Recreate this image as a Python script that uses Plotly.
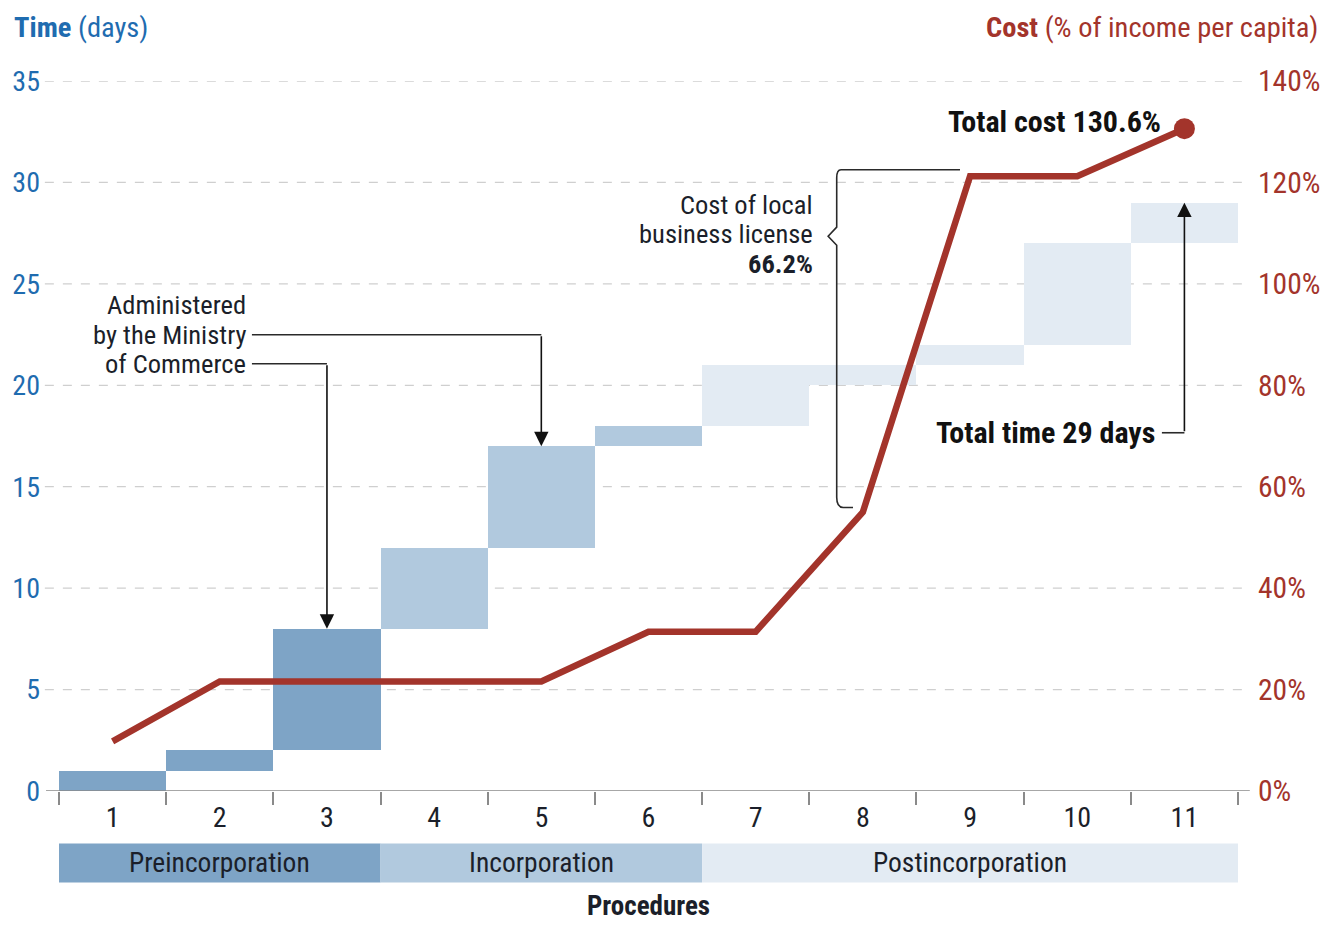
import plotly.graph_objects as go

# Procedures and their timing (days) / cumulative cost (% of income per capita)
procedures = [1, 2, 3, 4, 5, 6, 7, 8, 9, 10, 11]
start_day = [0, 1, 2, 8, 12, 17, 18, 20, 21, 22, 27]
end_day = [1, 2, 8, 12, 17, 18, 21, 21, 22, 27, 29]
cum_cost = [9.8, 21.6, 21.6, 21.6, 21.6, 31.4, 31.4, 55.0, 121.2, 121.2, 130.6]

# Phases: name, first procedure, last procedure, colour
phase_names = ["Preincorporation", "Incorporation", "Postincorporation"]
phase_first = [1, 4, 7]
phase_last = [3, 6, 11]
phase_colors = ["#7ea4c6", "#b1c9de", "#e3ebf3"]

time_ticks = [0, 5, 10, 15, 20, 25, 30, 35]
cost_ticks = [0, 20, 40, 60, 80, 100, 120, 140]
cost_tick_text = [f"{c}%" for c in cost_ticks]

FONT = "Liberation Sans Narrow, Arial Narrow, Roboto Condensed, DejaVu Sans Condensed, Liberation Sans, sans-serif"
BLUE = "#1f6cb0"
RED = "#a3342b"
INK = "#1b1f2a"
LINE = "#2a2a2a"


def phase_color(p):
    for f, l, c in zip(phase_first, phase_last, phase_colors):
        if f <= p <= l:
            return c
    return phase_colors[-1]


fig = go.Figure()

# Time bars (floating from start to end day)
fig.add_trace(go.Bar(
    x=procedures,
    y=[e - s for s, e in zip(start_day, end_day)],
    base=start_day,
    width=1.0,
    marker=dict(color=[phase_color(p) for p in procedures], line=dict(width=0)),
    hoverinfo="skip",
    showlegend=False,
))

# Cumulative cost line
fig.add_trace(go.Scatter(
    x=procedures, y=cum_cost, yaxis="y2", mode="lines",
    line=dict(color=RED, width=6.5), showlegend=False, hoverinfo="skip",
))
fig.add_trace(go.Scatter(
    x=[procedures[-1]], y=[cum_cost[-1]], yaxis="y2", mode="markers",
    marker=dict(color=RED, size=21), showlegend=False, hoverinfo="skip",
))

shapes = []
# dashed gridlines
for t in time_ticks[1:]:
    shapes.append(dict(type="line", xref="paper", yref="y", x0=-0.012, x1=1.010,
                       y0=t, y1=t, layer="below",
                       line=dict(color="#cfcfcf", width=1.3, dash="dash")))
# baseline
shapes.append(dict(type="line", xref="paper", yref="y", x0=-0.011, x1=1.010,
                   y0=0, y1=0, line=dict(color="#8a8a8a", width=1.6)))


def note(text, x, y, xref="x", yref="y", size=26.5, color=INK, xanchor="center"):
    return dict(text=text, xref=xref, yref=yref, x=x, y=y, xanchor=xanchor,
                yanchor="middle", showarrow=False,
                font=dict(size=size, color=color, family=FONT))


def arrow(x, y, ax, ay):
    return dict(text="", xref="x", yref="y", axref="x", ayref="y",
                x=x, y=y, ax=ax, ay=ay, showarrow=True, arrowhead=2,
                arrowsize=1.8, arrowwidth=1.6, arrowcolor="#111", standoff=0)


# phase strips under the axis
annotations = []
for name, f, l, c in zip(phase_names, phase_first, phase_last, phase_colors):
    shapes.append(dict(type="rect", xref="x", yref="paper", x0=f - 0.5, x1=l + 0.5,
                       y0=-0.1288, y1=-0.0739, fillcolor=c, line=dict(width=0)))
    annotations.append(note(name, (f + l) / 2, -0.1013, yref="paper", size=27.5))

annotations.append(note("<b>Procedures</b>", 0.4996, -0.1625, xref="paper", yref="paper", size=27))

# axis titles
annotations.append(note("<b>Time</b> (days)", -0.040, 1.076, xref="paper", yref="paper",
                        size=28.5, color=BLUE, xanchor="left"))
annotations.append(note("<b>Cost</b> (% of income per capita)", 1.0696, 1.076, xref="paper",
                        yref="paper", size=28.5, color=RED, xanchor="right"))

# Ministry of Commerce callout
ministry_lines = ["Administered", "by the Ministry", "of Commerce"]
ministry_y = [23.97, 22.49, 21.06]
for txt, yy in zip(ministry_lines, ministry_y):
    annotations.append(note(txt, 2.263, yy, xanchor="right"))
for yy, target in [(ministry_y[1], 5), (ministry_y[2], 3)]:
    shapes.append(dict(type="line", xref="x", yref="y", x0=2.30, x1=target, y0=yy, y1=yy,
                       line=dict(color=LINE, width=1.6)))
    annotations.append(arrow(target, end_day[target - 1], target, yy))

# Total time callout
tt_y = 17.66
annotations.append(note("<b>Total time 29 days</b>", 10.745, tt_y, size=30, color="#111",
                        xanchor="right"))
shapes.append(dict(type="line", xref="x", yref="y", x0=10.79, x1=procedures[-1], y0=tt_y, y1=tt_y,
                   line=dict(color=LINE, width=1.6)))
annotations.append(arrow(procedures[-1], end_day[-1], procedures[-1], tt_y))

# Total cost label
annotations.append(note("<b>Total cost 130.6%</b>", 10.80, 132.1, yref="y2", size=30,
                        color="#111", xanchor="right"))

# Local business license brace
lic_lines = ["Cost of local", "business license", "<b>66.2%</b>"]
lic_y = [28.89, 27.46, 25.99]
for txt, yy in zip(lic_lines, lic_y):
    annotations.append(note(txt, 7.553, yy, xanchor="right"))
b_top = cum_cost[8] + 1.3
b_bot = cum_cost[7] + 0.9
b_mid = 109.4
bx = 7.756
brace = (f"M 8.906,{b_top} L {bx + 0.04},{b_top} Q {bx},{b_top} {bx},{b_top - 1.6} "
         f"L {bx},{b_mid + 1.8} L {bx - 0.08},{b_mid} L {bx},{b_mid - 1.8} "
         f"L {bx},{b_bot + 2.0} Q {bx},{b_bot} {bx + 0.06},{b_bot} L 7.908,{b_bot}")
shapes.append(dict(type="path", xref="x", yref="y2", path=brace,
                   line=dict(color=LINE, width=1.6)))

fig.update_layout(
    width=1325, height=925,
    margin=dict(l=59, r=87, t=81, b=134),
    paper_bgcolor="white", plot_bgcolor="white",
    font=dict(family=FONT, size=28, color=INK),
    bargap=0,
    showlegend=False,
    shapes=shapes,
    annotations=annotations,
    xaxis=dict(
        range=[0.5, 11.5], tickmode="array", tickvals=procedures,
        ticktext=[str(p) for p in procedures], ticks="", showgrid=False,
        zeroline=False, showline=False, ticklabelstandoff=7, automargin=False,
        tickfont=dict(size=28, color=INK, family=FONT),
        minor=dict(tickmode="linear", tick0=0.5, dtick=1, ticks="outside",
                   ticklen=13, tickwidth=1.5, tickcolor="#8a8a8a", showgrid=False),
    ),
    yaxis=dict(
        range=[0, 35], tickmode="array", tickvals=time_ticks, showgrid=False,
        zeroline=False, showline=False, ticks="", ticklabelstandoff=18, automargin=False,
        tickfont=dict(size=28, color=BLUE, family=FONT),
    ),
    yaxis2=dict(
        range=[0, 140], tickmode="array", tickvals=cost_ticks, ticktext=cost_tick_text,
        overlaying="y", side="right", showgrid=False, zeroline=False, showline=False,
        ticks="", ticklabelstandoff=19, automargin=False,
        tickfont=dict(size=29.5, color=RED, family=FONT),
    ),
)

fig.write_html("out.html")
